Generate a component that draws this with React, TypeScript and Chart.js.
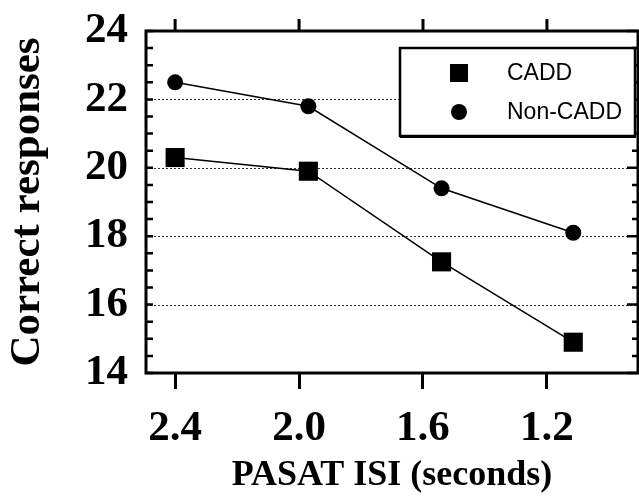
import React, { useEffect, useRef } from "react";
import { Chart, registerables } from "chart.js";

Chart.register(...registerables);

// ---- data ----
const isiTicks = [2.4, 2.0, 1.6, 1.2];
const isiTickLabels = ["2.4", "2.0", "1.6", "1.2"];
const isiPositions = [2.4, 1.97, 1.54, 1.115];
const caddValues = [20.3, 19.9, 17.25, 14.9];
const nonCaddValues = [22.5, 21.8, 19.4, 18.1];
const seriesLabels = ["CADD", "Non-CADD"];
const gridValues = [16, 18, 20, 22];
const yTitle = "Correct responses";
const xTitle = "PASAT ISI (seconds)";

const SERIF = "'Liberation Serif', 'Times New Roman', serif";
const SANS = "'Liberation Sans', Arial, sans-serif";

const framePlugin = {
  id: "frameAndGrid",
  beforeDatasetsDraw(chart: any) {
    const { ctx, chartArea } = chart;
    const { left, right, top, bottom } = chartArea;
    const ys = chart.scales.y;
    const xs = chart.scales.x;
    ctx.save();
    // dotted grid lines
    ctx.strokeStyle = "#333";
    ctx.lineWidth = 1;
    ctx.setLineDash([2, 2]);
    gridValues.forEach((v) => {
      const y = Math.round(ys.getPixelForValue(v)) + 0.5;
      ctx.beginPath();
      ctx.moveTo(left, y);
      ctx.lineTo(right, y);
      ctx.stroke();
    });
    ctx.setLineDash([]);
    // frame
    ctx.strokeStyle = "#000";
    ctx.lineWidth = 3;
    ctx.strokeRect(left, top, right - left, bottom - top);
    // left & right minor ticks (inward)
    ctx.lineWidth = 2.5;
    for (let v = ys.min; v <= ys.max + 1e-9; v += 0.5) {
      const y = ys.getPixelForValue(v);
      const major = Math.abs(v - Math.round(v / 2) * 2) < 1e-9;
      ctx.beginPath();
      ctx.moveTo(left, y);
      ctx.lineTo(left + 7, y);
      ctx.moveTo(right, y);
      ctx.lineTo(right - (major ? 11 : 6), y);
      ctx.stroke();
    }
    // top ticks (outward)
    ctx.lineWidth = 3;
    isiTicks.forEach((t) => {
      const x = xs.getPixelForValue(t);
      ctx.beginPath();
      ctx.moveTo(x, top);
      ctx.lineTo(x, top - 12);
      ctx.stroke();
    });
    ctx.restore();
  },
};

const legendPlugin = {
  id: "boxLegend",
  afterDatasetsDraw(chart: any) {
    const { ctx, chartArea } = chart;
    const bw = 235;
    const bh = 88;
    const bx = chartArea.right - bw - 3;
    const by = chartArea.top + 17;
    ctx.save();
    ctx.fillStyle = "#fff";
    ctx.fillRect(bx, by, bw, bh);
    ctx.strokeStyle = "#000";
    ctx.lineWidth = 2.5;
    ctx.strokeRect(bx, by, bw, bh);
    ctx.fillStyle = "#000";
    ctx.fillRect(bx, by + bh - 1, bw + 1, 3);
    // markers
    const mx = bx + 59;
    const r1 = by + 25;
    const r2 = by + 64;
    ctx.fillRect(mx - 9, r1 - 9, 18, 18);
    ctx.beginPath();
    ctx.arc(mx, r2, 8, 0, Math.PI * 2);
    ctx.fill();
    ctx.font = `23px ${SANS}`;
    ctx.textBaseline = "middle";
    ctx.textAlign = "left";
    ctx.fillText(seriesLabels[0], bx + 107, r1 + 1);
    ctx.fillText(seriesLabels[1], bx + 107, r2 + 1);
    ctx.restore();
  },
};

export default function App() {
  const canvasRef = useRef<HTMLCanvasElement | null>(null);

  useEffect(() => {
    if (!canvasRef.current) return;
    const toPoints = (vals: number[]) => isiPositions.map((x, i) => ({ x, y: vals[i] }));
    const chart = new Chart(canvasRef.current, {
      type: "line",
      data: {
        datasets: [
          {
            label: seriesLabels[0],
            data: toPoints(caddValues),
            borderColor: "#000",
            borderWidth: 1.5,
            backgroundColor: "#000",
            pointStyle: "rect",
            pointRadius: 13.5,
            pointBorderWidth: 0,
            tension: 0,
          },
          {
            label: seriesLabels[1],
            data: toPoints(nonCaddValues),
            borderColor: "#000",
            borderWidth: 1.5,
            backgroundColor: "#000",
            pointStyle: "circle",
            pointRadius: 8,
            pointBorderWidth: 0,
            tension: 0,
          },
        ],
      },
      options: {
        animation: false,
        responsive: false,
        maintainAspectRatio: false,
        layout: { autoPadding: false, padding: { top: 31, right: 1, left: 0, bottom: 0 } },
        plugins: {
          legend: { display: false },
          tooltip: { enabled: false },
        },
        scales: {
          x: {
            type: "linear",
            reverse: true,
            min: 0.906,
            max: 2.494,
            afterBuildTicks: (scale: any) => {
              scale.ticks = isiTicks.map((v) => ({ value: v }));
            },
            afterFit: (scale: any) => {
              scale.height = 124;
              scale.paddingLeft = 0;
              scale.paddingRight = 0;
            },
            ticks: {
              autoSkip: false,
              maxRotation: 0,
              minRotation: 0,
              padding: 14,
              color: "#000",
              font: { family: SERIF, size: 43, weight: "bold" },
              callback: (_v: any, i: number) => isiTickLabels[i],
            },
            grid: {
              display: true,
              drawOnChartArea: false,
              drawTicks: true,
              tickLength: 16,
              lineWidth: 3,
              color: "#000",
            },
            border: { display: false },
            title: {
              display: true,
              text: xTitle,
              color: "#000",
              font: { family: SERIF, size: 36, weight: "bold" },
              padding: { top: 0, bottom: 0 },
            },
          },
          y: {
            type: "linear",
            min: 14,
            max: 24,
            afterFit: (scale: any) => {
              scale.width = 146;
              scale.paddingTop = 0;
              scale.paddingBottom = 0;
            },
            ticks: {
              stepSize: 2,
              padding: 18,
              color: "#000",
              font: { family: SERIF, size: 43, weight: "bold" },
            },
            grid: { display: false, drawTicks: false },
            border: { display: false },
            title: {
              display: true,
              text: yTitle,
              color: "#000",
              font: { family: SERIF, size: 43, weight: "bold" },
              padding: { top: 2, bottom: 0 },
            },
          },
        },
      },
      plugins: [framePlugin, legendPlugin],
    } as any);
    return () => chart.destroy();
  }, []);

  return (
    <div style={{ position: "absolute", left: 0, top: 0, width: 639, height: 497, background: "#fff" }}>
      <canvas ref={canvasRef} width={639} height={497} style={{ width: 639, height: 497, display: "block" }} />
    </div>
  );
}
